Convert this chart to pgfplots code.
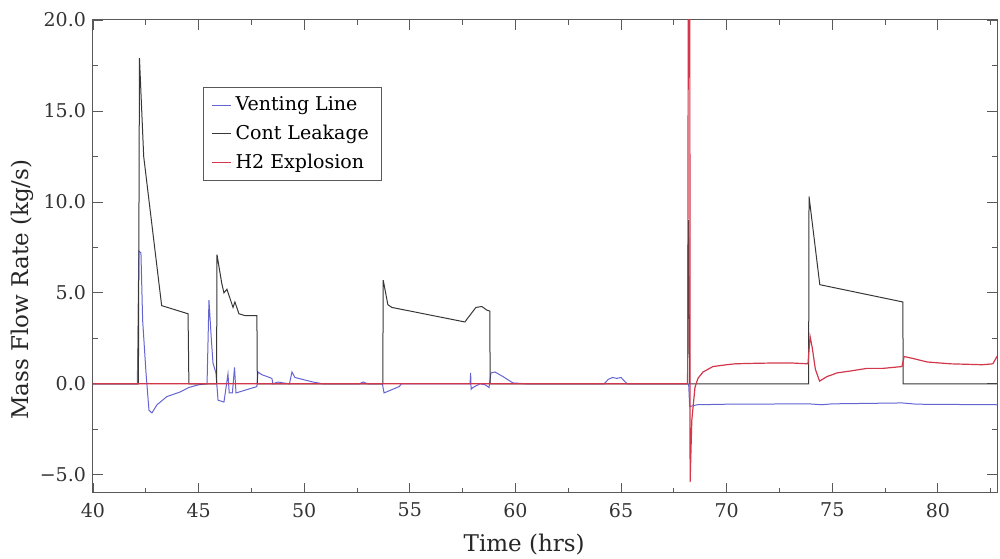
\documentclass[border=0pt]{standalone}
\usepackage{pgfplots}
\pgfplotsset{compat=1.18}
\usepackage{fontspec}
\setmainfont{DejaVu Serif}
\definecolor{vent}{RGB}{100,100,210}
\definecolor{cont}{RGB}{55,55,55}
\definecolor{hexp}{RGB}{210,55,75}
\begin{document}
\begin{tikzpicture}
\begin{axis}[name=ax, scale only axis, width=452pt, height=236.5pt,
  xmin=40, xmax=82.8, ymin=-6, ymax=20,
  xtick={40,45,...,80}, minor xtick={42.5,47.5,...,82.5},
  ytick={-5,0,5,10,15,20}, yticklabels={−5.0,0.0,5.0,10.0,15.0,20.0},
  minor ytick={-2.5,2.5,7.5,12.5,17.5},
  tick align=inside, major tick length=5pt, minor tick length=2.5pt,
  axis line style={gray!70!black, line width=0.5pt},
  every tick/.style={gray!70!black, line width=0.4pt},
  tick label style={font=\fontsize{9.5}{11}\selectfont, text=black!80},
  xticklabel style={yshift=-1.5pt},
  /pgf/number format/assume math mode=true,
  xlabel={Time (hrs)}, ylabel={Mass Flow Rate (kg/s)},
  every axis x label/.style={at={(axis description cs:0.477,-0.11)}, anchor=center},
  every axis y label/.style={at={(axis description cs:-0.0785,0.43)}, rotate=90, anchor=center},
  label style={font=\fontsize{11.5}{13}\selectfont, text=black!85},
  legend style={at={(0.1217,0.858)}, anchor=north west, draw=gray!70!black,
    font=\fontsize{9.5}{11}\selectfont, row sep=1.8pt, inner xsep=4pt, inner ysep=2.5pt},
  legend cell align=left,
  legend image code/.code={\draw[#1] (0.5pt,0pt) -- (6.5pt,0pt); \path (0pt,0pt) -- (9.5pt,0pt);},
  clip=true,
]
\addplot[vent, line width=0.5pt] coordinates {
(40,0)(42.1,0)(42.17,7.3)(42.27,7.2)(42.35,3.5)(42.51,0.6)(42.65,-1.45)(42.79,-1.6)
(43.03,-1.15)(43.5,-0.7)(44.12,-0.45)(44.54,-0.2)(45.0,-0.05)(45.4,0)(45.49,4.6)
(45.6,2.5)(45.68,1.15)(45.82,0.6)(45.92,-0.9)(46.2,-1.0)(46.3,-0.2)(46.39,0.55)
(46.45,-0.5)(46.6,-0.5)(46.7,0.9)(46.77,-0.5)(47.2,-0.35)(47.76,-0.15)(47.81,0.65)
(48.0,0.5)(48.24,0.4)(48.47,0.3)(48.52,0.0)(48.76,0.1)(49.0,0.05)(49.3,0.0)
(49.42,0.65)(49.56,0.35)(50.41,0.1)(50.89,0)(52.6,0)(52.8,0.1)(53.0,0)(53.7,0)
(53.78,-0.5)(54.5,-0.15)(54.6,0)(57.85,0)(57.88,0.6)(57.9,-0.3)(57.99,-0.2)
(58.32,0.0)(58.56,-0.05)(58.75,-0.2)(58.84,0.6)(59.03,0.65)(59.41,0.4)(59.88,0.05)
(60.54,0)(64.2,0)(64.4,0.25)(64.6,0.35)(64.8,0.3)(65.0,0.35)(65.2,0.1)(65.3,0)
(68.2,0)(68.25,-1.25)(68.6,-1.15)(70,-1.12)(73.9,-1.1)(74.5,-1.15)(75,-1.1)
(78.3,-1.05)(79,-1.12)(82.8,-1.15)
};
\addlegendentry{Venting Line}
\addplot[cont, line width=0.5pt] coordinates {
(40,0)(42.15,0)(42.2,17.9)(42.4,12.5)(43.25,4.3)(44.5,3.85)(44.54,0)(45.85,0)
(45.87,7.1)(46.1,5.5)(46.2,5.0)(46.34,5.2)(46.63,4.2)(46.72,4.5)(46.91,3.85)
(47.2,3.75)(47.76,3.75)(47.78,0)(53.72,0)(53.74,5.7)(53.96,4.35)(54.15,4.2)
(57.61,3.4)(57.7,3.55)(58.13,4.2)(58.41,4.25)(58.65,4.05)(58.79,4.0)(58.8,0)
(68.15,0)(68.2,9.0)(68.25,0)(73.88,0)(73.9,10.3)(74.41,5.45)(78.34,4.5)(78.36,0)(82.8,0)
};
\addlegendentry{Cont Leakage}
\addplot[hexp, line width=0.6pt] coordinates {
(40,0)(68.15,0)(68.2,30)(68.25,30)(68.27,-5.4)(68.35,-2)(68.5,-0.2)(68.64,0.3)
(68.88,0.65)(69.35,0.95)(70.0,1.05)(70.4,1.1)(71.0,1.12)(72.4,1.15)(73.0,1.15)
(73.85,1.1)(73.95,2.6)(74.05,2.0)(74.2,0.8)(74.4,0.15)(74.75,0.4)(75.0,0.5)
(75.22,0.6)(75.83,0.7)(76.64,0.85)(77.4,0.85)(78.3,0.95)(78.4,1.5)(78.8,1.4)
(79.5,1.2)(80.6,1.1)(82.1,1.05)(82.6,1.1)(82.8,1.5)
};
\addlegendentry{H2 Explosion}
\end{axis}
\pgfresetboundingbox
\path[use as bounding box] ([shift={(-46.5pt,-33pt)}]ax.south west) rectangle ([shift={(1.5pt,10pt)}]ax.north east);
\end{tikzpicture}
\end{document}
